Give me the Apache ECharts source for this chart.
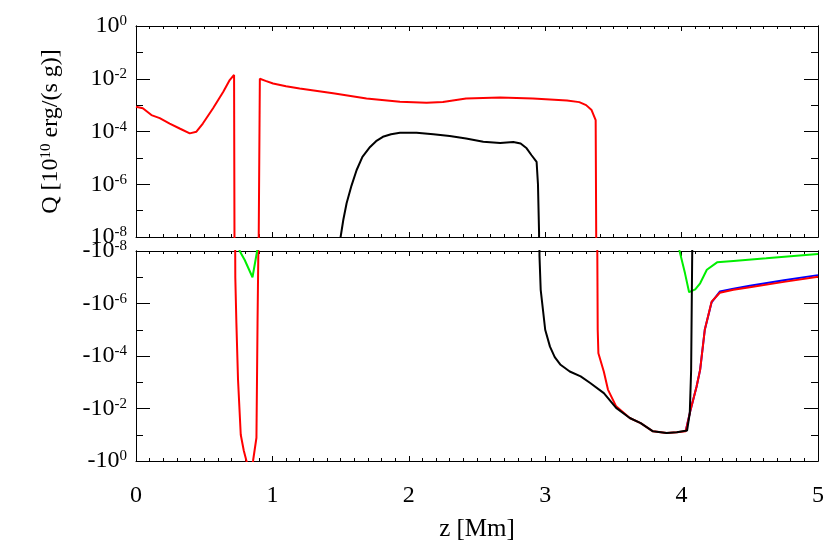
<!DOCTYPE html>
<html><head><meta charset="utf-8">
<script src="https://cdn.jsdelivr.net/npm/echarts@6/dist/echarts.min.js"></script>
<style>html,body{margin:0;padding:0;background:#fff}#c{width:830px;height:557px}</style>
</head><body><div id="c"></div>
<script>
// ---- data (z in Mm, signed Q in 10^10 erg/(s g)) ----
const redZ = [0, 0.05, 0.113, 0.174, 0.247, 0.32, 0.394, 0.443, 0.49, 0.565, 0.64, 0.687, 0.719,
  0.728, 0.736, 0.748, 0.768, 0.79, 0.81, 0.834, 0.858, 0.883, 0.891, 0.897,
  0.908, 0.95, 1.005, 1.1, 1.2, 1.445, 1.69, 1.935, 2.13, 2.25, 2.42, 2.67, 2.91, 3.16, 3.25, 3.3, 3.34, 3.37,
  3.385, 3.39, 3.43, 3.46, 3.52, 3.62, 3.70, 3.79, 3.89, 3.965, 4.03, 4.06, 4.11, 4.136, 4.17, 4.22, 4.28, 4.38, 4.5, 4.75, 5.0];
const redQ = [8.7e-4, 7.6e-4, 4.2e-4, 3.2e-4, 2.0e-4, 1.3e-4, 8.5e-5, 9.8e-5, 2.0e-4, 7.6e-4, 3.2e-3, 8.9e-3, 1.4e-2,
  -1e-7, -5.6e-6, -8e-4, -0.1, -0.4, -1.0, -3.0, -1.0, -0.13, -5.6e-6, -1e-8,
  1.0e-2, 8.3e-3, 6.6e-3, 5.2e-3, 4.3e-3, 2.8e-3, 1.8e-3, 1.35e-3, 1.23e-3, 1.32e-3, 1.8e-3, 1.95e-3, 1.8e-3, 1.5e-3, 1.3e-3, 1.0e-3, 6.5e-4, 2.7e-4,
  -1e-5, -7.8e-5, -4e-4, -1.9e-3, -8.3e-3, -2.3e-2, -3.6e-2, -7.4e-2, -8.5e-2, -8.1e-2, -7.4e-2, -1.5e-2, -1.45e-3, -3.3e-4, -1e-5, -8.5e-7, -3.9e-7, -3.0e-7, -2.4e-7, -1.5e-7, -9.5e-8];

const blueZ = [4.03, 4.06, 4.11, 4.136, 4.17, 4.22, 4.28, 4.38, 4.5, 4.75, 5.0];
const blueQ = [-7.4e-2, -1.5e-2, -1.45e-3, -3.3e-4, -1e-5, -9e-7, -3.5e-7, -2.75e-7, -2.1e-7, -1.3e-7, -8.3e-8];

const greenZ = [0.74, 0.76, 0.797, 0.854, 0.888, 0.9, 2.5, 3.96, 3.985, 4.025, 4.055, 4.1, 4.136, 4.185, 4.26, 4.38, 4.62, 5.0];
const greenQ = [-1e-9, -1e-8, -2.2e-8, -1e-7, -1e-8, -1e-9, null, -1e-9, -1e-8, -7.1e-8, -3.7e-7, -2.9e-7, -1.7e-7, -5.2e-8, -2.7e-8, -2.4e-8, -1.9e-8, -1.3e-8];

const blackZ = [1.47, 1.5, 1.52, 1.544, 1.58, 1.617, 1.66, 1.716, 1.76, 1.81, 1.87, 1.935, 2.057, 2.18, 2.3, 2.42, 2.546, 2.67, 2.766, 2.82, 2.864, 2.9, 2.937, 2.947, 2.955,
  2.958, 2.967, 3.0, 3.035, 3.07, 3.11, 3.18, 3.26, 3.33, 3.43, 3.52, 3.62, 3.70, 3.79, 3.89, 3.965, 4.04, 4.06, 4.07, 4.085];
const blackQ = [1e-12, 1e-8, 4.5e-8, 1.9e-7, 8.9e-7, 3.4e-6, 1.1e-5, 2.6e-5, 4.3e-5, 6.3e-5, 7.9e-5, 8.9e-5, 8.9e-5, 7.9e-5, 6.8e-5, 5.4e-5, 4.1e-5, 3.7e-5, 4.0e-5, 3.5e-5, 2.3e-5, 1.26e-5, 7e-6, 1e-6, 1.5e-8,
  -1.5e-8, -3e-7, -1e-5, -4.4e-5, -1.1e-4, -2.1e-4, -3.9e-4, -6e-4, -1.07e-3, -2.6e-3, -9.5e-3, -2.3e-2, -3.6e-2, -7.4e-2, -8.5e-2, -8.1e-2, -6.9e-2, -1.5e-2, -3.3e-4, -1e-12];

const xRange = [0, 5];
const yRange = [1e-8, 1];

// ---- rendering ----
const FONT = '"Liberation Serif", "DejaVu Serif", serif';
const AX = '#000';
const OFF = 1e-20; // off-scale value used for the opposite-sign part
function topVal(q) { return q == null ? '-' : (q > 0 ? q : OFF); }
function botVal(q) { return q == null ? '-' : (q < 0 ? -q : OFF); }
function pairs(zs, qs, f) { return zs.map((z, i) => [z, f(qs[i])]); }
function expOf(v) { return Math.round(Math.log10(v)); }

const richLab = {
  b: { fontFamily: FONT, fontSize: 24, lineHeight: 24, color: '#000' },
  s: { fontFamily: FONT, fontSize: 15, lineHeight: 9, verticalAlign: 'top', color: '#000' }
};

function xAx(grid, pos, labels) {
  return {
    type: 'value', gridIndex: grid, position: pos, min: xRange[0], max: xRange[1], interval: 1,
    axisLine: { show: true, onZero: false, lineStyle: { color: AX, width: 1 } },
    axisTick: { show: true, inside: true, length: 5, lineStyle: { color: AX } },
    minorTick: { show: true, splitNumber: 10, length: 3, lineStyle: { color: AX } },
    axisLabel: { show: labels, margin: 23, fontFamily: FONT, fontSize: 24, color: '#000' },
    splitLine: { show: false }, minorSplitLine: { show: false }
  };
}
function yAx(grid, pos, interval, len, labels, inverse, neg) {
  return {
    type: 'log', logBase: 10, gridIndex: grid, position: pos, min: yRange[0], max: yRange[1],
    interval: interval, inverse: inverse,
    axisLine: { show: true, onZero: false, lineStyle: { color: AX, width: 1 } },
    axisTick: { show: true, inside: true, length: len, lineStyle: { color: AX } },
    axisLabel: {
      show: labels, margin: 9, fontFamily: FONT, fontSize: 24, color: '#000',
      formatter: v => '{b|' + (neg ? '-10' : '10') + '}{s|' + expOf(v) + '}',
      rich: richLab
    },
    splitLine: { show: false }, minorTick: { show: false }
  };
}

const xAxes = [xAx(0, 'bottom', false), xAx(0, 'top', false), xAx(1, 'bottom', true), xAx(1, 'top', false)];
xAxes[2].name = 'z [Mm]';
xAxes[2].nameLocation = 'middle';
xAxes[2].nameGap = 56;
xAxes[2].nameTextStyle = { fontFamily: FONT, fontSize: 25, color: '#000' };

const yAxes = [
  yAx(0, 'left', 2, 14, true, false, false), yAx(0, 'left', 1, 7, false, false, false),
  yAx(0, 'right', 2, 14, false, false, false), yAx(0, 'right', 1, 7, false, false, false),
  yAx(1, 'left', 2, 14, true, true, true), yAx(1, 'left', 1, 7, false, true, true),
  yAx(1, 'right', 2, 14, false, true, true), yAx(1, 'right', 1, 7, false, true, true)
];
yAxes[0].name = '{t|Q [10}{s|10}{t| erg/(s g)]}';
yAxes[0].nameLocation = 'middle';
yAxes[0].nameRotate = 90;
yAxes[0].nameGap = 73;
yAxes[0].nameTextStyle = {
  fontFamily: FONT, fontSize: 24, color: '#000',
  rich: {
    t: { fontFamily: FONT, fontSize: 24, lineHeight: 24, color: '#000' },
    s: { fontFamily: FONT, fontSize: 15, lineHeight: 9, verticalAlign: 'top', color: '#000' }
  }
};

const curves = [
  [blueZ, blueQ, '#0000ff'],
  [redZ, redQ, '#ff0000'],
  [greenZ, greenQ, '#00ee00'],
  [blackZ, blackQ, '#000000']
];
const series = [];
curves.forEach(([zs, qs, col]) => {
  const common = { type: 'line', symbol: 'none', showSymbol: false, clip: true, animation: false,
    lineStyle: { color: col, width: 2 }, emphasis: { disabled: true } };
  series.push(Object.assign({}, common, { xAxisIndex: 0, yAxisIndex: 0, data: pairs(zs, qs, topVal) }));
  series.push(Object.assign({}, common, { xAxisIndex: 2, yAxisIndex: 4, data: pairs(zs, qs, botVal) }));
});

const chart = echarts.init(document.getElementById('c'), null, { renderer: 'canvas' });
chart.setOption({
  backgroundColor: '#fff',
  animation: false,
  textStyle: { fontFamily: FONT },
  grid: [
    { left: 136, top: 26, width: 682, height: 211 },
    { left: 136, top: 251, width: 682, height: 210 }
  ],
  xAxis: xAxes,
  yAxis: yAxes,
  series: series
});
</script></body></html>
